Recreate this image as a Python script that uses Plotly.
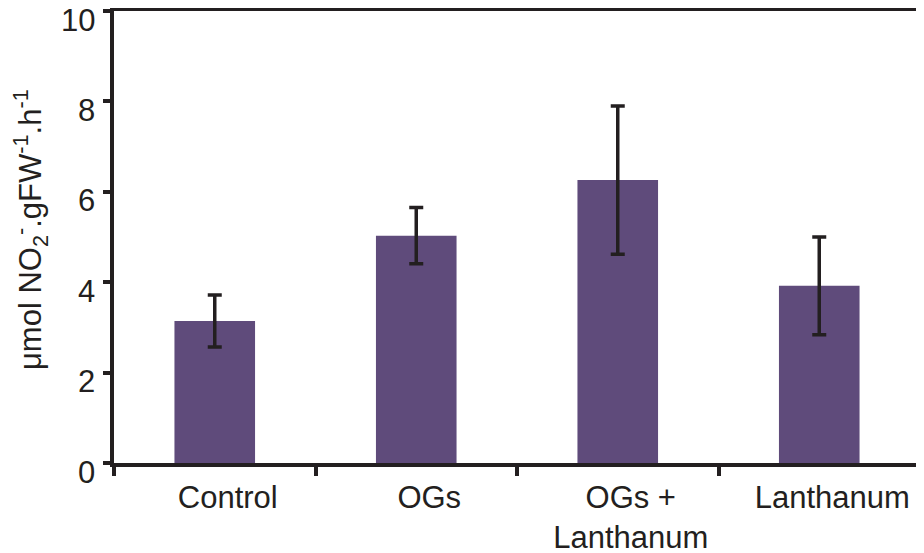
import plotly.graph_objects as go

# values
categories = ["Control", "OGs", "OGs +<br>Lanthanum", "Lanthanum"]
nitrite_rate = [3.14, 5.03, 6.26, 3.92]
nitrite_err = [0.575, 0.62, 1.64, 1.08]
y_ticks = [0, 2, 4, 6, 8, 10]
y_title = "μmol NO<sub>2</sub><sup>-</sup>.gFW<sup>-1</sup>.h<sup>-1</sup>"

INK = "#231f20"
BAR = "#5f4b7b"
FONT = "Liberation Sans, Arial, sans-serif"


def main():
    fig = go.Figure()
    fig.add_bar(
        x=categories,
        y=nitrite_rate,
        marker=dict(color=BAR, line=dict(width=0)),
        error_y=dict(type="data", array=nitrite_err, visible=True,
                     color=INK, thickness=3.5, width=7),
    )
    # page body has an 8px margin, so the figure is 8px smaller than the window
    fig.update_layout(
        width=916, height=545,
        margin=dict(l=106, r=4, t=3, b=90),
        plot_bgcolor="white", paper_bgcolor="white",
        bargap=0.6,
        showlegend=False,
        font=dict(family=FONT, size=31, color=INK),
    )
    fig.update_xaxes(
        automargin=False,
        showline=True, linecolor=INK, linewidth=3.5, mirror=True,
        ticks="outside", tickson="boundaries", ticklen=9, tickwidth=3.5,
        tickcolor=INK, ticklabelstandoff=4, ticklabelshift=13,
        showgrid=False, zeroline=False,
    )
    fig.update_yaxes(
        automargin=False,
        range=[0, 10], tickvals=y_ticks, showticklabels=False,
        showline=True, linecolor=INK, linewidth=3.5, mirror=True,
        ticks="outside", ticklen=7, tickwidth=3.5, tickcolor=INK,
        showgrid=False, zeroline=False,
    )
    # y tick labels sit a little below their ticks in the original
    for v in y_ticks:
        fig.add_annotation(x=0, xref="paper", y=v, yref="y", text=str(v),
                           showarrow=False, xanchor="right", yanchor="middle",
                           xshift=-17, yshift=-9)
    fig.add_annotation(x=0, xref="paper", y=0.5, yref="paper", text=y_title,
                       showarrow=False, textangle=-90, xanchor="center",
                       yanchor="middle", xshift=-84, yshift=7)
    fig.write_html("out.html")


if __name__ == "__main__":
    main()
